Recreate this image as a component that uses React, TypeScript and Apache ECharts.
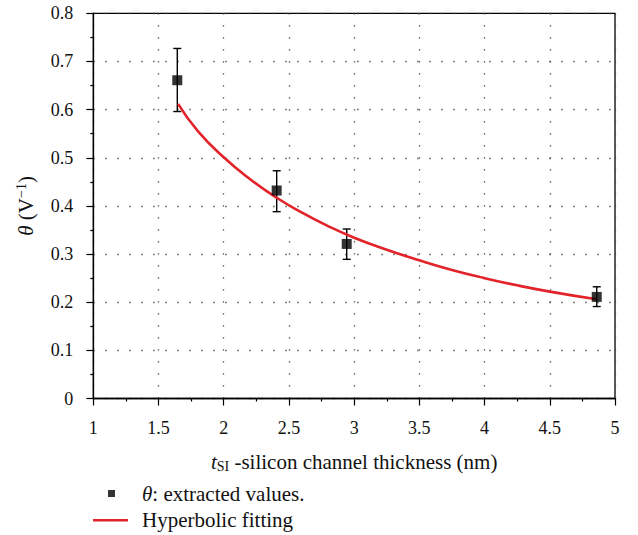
import React, { useEffect, useRef } from "react";
import * as echarts from "echarts";

// Extracted θ values versus silicon channel thickness
const thickness = [1.644, 2.406, 2.943, 4.86];
const theta = [0.661, 0.432, 0.321, 0.211];
const thetaLow = [0.596, 0.388, 0.289, 0.191];
const thetaHigh = [0.727, 0.473, 0.352, 0.232];

// Hyperbolic fitting curve, sampled along the thickness axis
const fitX = [1.65, 1.8, 2.0, 2.2, 2.4, 2.6, 2.8, 3.0, 3.25, 3.5, 3.75, 4.0, 4.25, 4.5, 4.86];
const fitY = [0.612, 0.556, 0.501, 0.456, 0.418, 0.386, 0.358, 0.334, 0.309, 0.287, 0.267, 0.25, 0.235, 0.222, 0.206];

const xTicks = { min: 1, max: 5, interval: 0.5 };
const yTicks = { min: 0, max: 0.8, interval: 0.1 };

const FONT = "Liberation Serif";
const RED = "#e3232a";
const INK = "#111";
const TEXT_SIZE = 21;

export default function App() {
  const ref = useRef<HTMLDivElement>(null);

  useEffect(() => {
    if (!ref.current) return;
    const chart = echarts.init(ref.current, null, { renderer: "svg" });

    const points = thickness.map((x, i) => [x, theta[i]]);
    const bars = thickness.map((x, i) => [x, thetaLow[i], thetaHigh[i]]);
    const fit = fitX.map((x, i) => [x, fitY[i]]);

    const axisCommon = {
      axisLine: { show: true, onZero: false, lineStyle: { color: "#000", width: 1.3 } },
      axisTick: { show: true, inside: false, length: 7, lineStyle: { color: "#000", width: 1.2 } },
      minorTick: { show: true, splitNumber: 2, length: 3, lineStyle: { color: "#000", width: 1.2 } },
      splitLine: { show: true, lineStyle: { color: "#444", width: 1.3, type: [1.3, 10.7] } },
    };
    const labelStyle = {
      color: INK,
      fontFamily: FONT,
      fontSize: 18,
      showMinLabel: true,
      showMaxLabel: true,
      formatter: (v: number) => "{n|" + String(v) + "}",
      rich: { n: { fontFamily: FONT, fontSize: 18, lineHeight: 20, color: INK } },
    };
    const richText = {
      i: { fontFamily: FONT, fontSize: TEXT_SIZE, fontStyle: "italic", lineHeight: 24, color: INK },
      b: { fontFamily: FONT, fontSize: TEXT_SIZE, lineHeight: 24, color: INK },
      sub: { fontFamily: FONT, fontSize: 14, lineHeight: 14, verticalAlign: "bottom", color: INK },
      sup: { fontFamily: FONT, fontSize: 14, lineHeight: 14, verticalAlign: "top", color: INK },
    };
    const legendText = (pad: number) => ({
      color: INK,
      fontFamily: FONT,
      fontSize: TEXT_SIZE,
      padding: [0, 0, 0, pad],
      rich: {
        i: { fontFamily: FONT, fontSize: TEXT_SIZE, fontStyle: "italic", lineHeight: 22, color: INK },
        b: { fontFamily: FONT, fontSize: TEXT_SIZE, lineHeight: 22, color: INK },
      },
    });
    const legendFormatter = (name: string) =>
      name.startsWith("θ") ? "{i|θ}{b|" + name.slice(1) + "}" : "{b|" + name + "}";

    chart.setOption({
      animation: false,
      backgroundColor: "#fff",
      grid: {
        left: 93.3,
        right: 23,
        top: 13.3,
        bottom: 136.5,
        show: true,
        borderColor: "#000",
        borderWidth: 1.3,
        backgroundColor: "transparent",
      },
      xAxis: {
        type: "value",
        ...xTicks,
        ...axisCommon,
        axisLabel: { ...labelStyle, margin: 19 },
        name: "{i|t}{sub|SI}{b| -silicon channel thickness (nm)}",
        nameLocation: "middle",
        nameGap: 51,
        nameTextStyle: { color: INK, fontFamily: FONT, fontSize: TEXT_SIZE, rich: richText },
      },
      yAxis: {
        type: "value",
        ...yTicks,
        ...axisCommon,
        axisLabel: { ...labelStyle, margin: 20 },
        name: "{i|θ}{b| (V}{sup|−1}{b|)}",
        nameLocation: "middle",
        nameGap: 55,
        nameTextStyle: { color: INK, fontFamily: FONT, fontSize: TEXT_SIZE, rich: richText },
      },
      legend: [
        {
          orient: "vertical",
          left: 108,
          top: 483,
          padding: 0,
          itemWidth: 7,
          itemHeight: 7,
          selectedMode: false,
          data: [{ name: "θ: extracted values.", icon: "rect" }],
          formatter: legendFormatter,
          textStyle: legendText(22),
        },
        {
          orient: "vertical",
          left: 93,
          top: 509.7,
          padding: 0,
          itemWidth: 35,
          itemHeight: 2.6,
          selectedMode: false,
          data: [{ name: "Hyperbolic fitting", icon: "rect" }],
          formatter: legendFormatter,
          textStyle: legendText(9),
        },
      ],
      series: [
        {
          name: "error",
          type: "custom",
          data: bars,
          encode: { x: 0, y: [1, 2] },
          z: 2,
          renderItem: (params: any, api: any) => {
            const x = api.value(0);
            const top = api.coord([x, api.value(2)]);
            const bot = api.coord([x, api.value(1)]);
            const half = 4;
            const style = { stroke: "#000", lineWidth: 1.4, fill: "none" };
            return {
              type: "group",
              children: [
                { type: "line", shape: { x1: top[0], y1: top[1], x2: bot[0], y2: bot[1] }, style },
                { type: "line", shape: { x1: top[0] - half, y1: top[1], x2: top[0] + half, y2: top[1] }, style },
                { type: "line", shape: { x1: bot[0] - half, y1: bot[1], x2: bot[0] + half, y2: bot[1] }, style },
              ],
            };
          },
        },
        {
          name: "Hyperbolic fitting",
          type: "line",
          data: fit,
          smooth: true,
          symbol: "none",
          z: 3,
          lineStyle: { color: RED, width: 2.6 },
          itemStyle: { color: RED },
        },
        {
          name: "θ: extracted values.",
          type: "scatter",
          data: points,
          symbol: "rect",
          symbolSize: 10,
          z: 4,
          itemStyle: { color: "#000" },
        },
      ],
    });

    return () => chart.dispose();
  }, []);

  return (
    <div
      ref={ref}
      style={{ position: "fixed", left: 0, top: 0, width: 638, height: 535, background: "#fff" }}
    />
  );
}
